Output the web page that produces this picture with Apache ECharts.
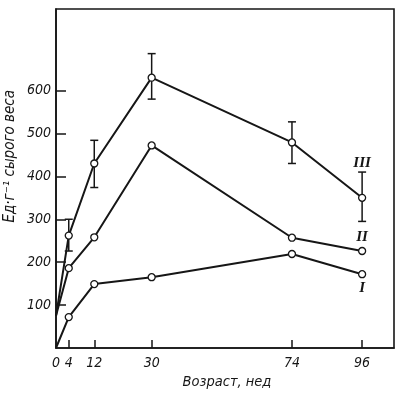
<!DOCTYPE html>
<html><head><meta charset="utf-8">
<script src="https://cdn.jsdelivr.net/npm/echarts@6/dist/echarts.min.js"></script>
<style>html,body{margin:0;padding:0;background:#fff}#c{width:400px;height:394px}</style>
</head><body><div id="c"></div>
<script>
const ages = [0, 4, 12, 30, 74, 96];
const seriesI   = [0, 72, 149, 165, 219, 172];
const seriesII  = [75, 186, 258, 472, 257, 226];
const seriesIII = [75, 262, 430, 630, 479, 350];
const errAges = [4, 12, 30, 74, 96];
const errLow  = [226, 374, 580, 430, 295];
const errHigh = [300, 484, 686, 527, 410];
const xTickLabels = [0, 4, 12, 30, 74, 96];
const xTicks = [4, 12, 30, 74, 96];
const yTicks = [100, 200, 300, 400, 500, 600];
const names = ['I', 'II', 'III'];

const ink = '#161616';
const numFont = {fontFamily: '"DejaVu Sans Condensed","DejaVu Sans",sans-serif', fontStyle: 'italic', fontSize: 14, color: ink};

function mkData(vals, labelPos, labelDist, name) {
  return ages.map((a, i) => {
    const d = {value: [a, vals[i]]};
    if (i === ages.length - 1) {
      d.label = {show: true, position: labelPos, distance: labelDist, formatter: name,
        fontFamily: '"Liberation Serif","DejaVu Serif",serif', fontStyle: 'italic', fontWeight: 'bold', fontSize: 15, color: ink};
    }
    if (i === 0) { d.symbol = 'none'; }
    return d;
  });
}

const lineStyle = {color: ink, width: 2};
const itemStyle = {color: '#fff', borderColor: ink, borderWidth: 1.3};

const chart = echarts.init(document.getElementById('c'));
chart.setOption({
  animation: false,
  grid: {left: 56, right: 6, top: 9, bottom: 46, outerBoundsMode: 'none', containLabel: false,
    show: true, borderColor: ink, borderWidth: 1.6},
  xAxis: {
    type: 'value', min: 0, max: 106,
    axisLine: {show: true, lineStyle: {color: ink, width: 1.6}},
    axisTick: {show: true, inside: true, length: 8, customValues: xTicks, lineStyle: {color: ink, width: 1.5}},
    axisLabel: Object.assign({customValues: xTickLabels, margin: 8}, numFont),
    splitLine: {show: false},
    name: 'Возраст, нед', nameLocation: 'middle', nameGap: 26,
    nameTextStyle: Object.assign({}, numFont, {fontSize: 14.5, padding: [0, 0, 0, 4]})
  },
  yAxis: {
    type: 'value', min: 0, max: 790,
    axisLine: {show: true, lineStyle: {color: ink, width: 1.6}},
    axisTick: {show: true, inside: true, length: 10, customValues: yTicks, lineStyle: {color: ink, width: 1.5}},
    axisLabel: Object.assign({customValues: yTicks, margin: 5}, numFont),
    splitLine: {show: false}
  },
  graphic: [{
    type: 'text', left: 3, top: 90, rotation: Math.PI / 2,
    style: Object.assign({text: 'Ед·г⁻¹ сырого веса', fill: ink,
      font: 'italic 15px "DejaVu Sans Condensed","DejaVu Sans",sans-serif'})
  }],
  series: [
    {type: 'line', data: mkData(seriesI, 'bottom', 2, names[0]), symbol: 'circle', symbolSize: 7, lineStyle, itemStyle, z: 3},
    {type: 'line', data: mkData(seriesII, 'top', 2, names[1]), symbol: 'circle', symbolSize: 7, lineStyle, itemStyle, z: 3},
    {type: 'line', data: mkData(seriesIII, 'top', 23, names[2]), symbol: 'circle', symbolSize: 7, lineStyle, itemStyle, z: 3},
    {
      type: 'custom', z: 2,
      data: errAges.map((a, i) => [a, errLow[i], errHigh[i]]),
      renderItem: function (params, api) {
        const lo = api.coord([api.value(0), api.value(1)]);
        const hi = api.coord([api.value(0), api.value(2)]);
        const w = 4;
        const st = {stroke: ink, lineWidth: 1.5};
        return {type: 'group', children: [
          {type: 'line', shape: {x1: lo[0], y1: lo[1], x2: hi[0], y2: hi[1]}, style: st},
          {type: 'line', shape: {x1: lo[0] - w, y1: lo[1], x2: lo[0] + w, y2: lo[1]}, style: st},
          {type: 'line', shape: {x1: hi[0] - w, y1: hi[1], x2: hi[0] + w, y2: hi[1]}, style: st}
        ]};
      }
    }
  ]
});
</script></body></html>
